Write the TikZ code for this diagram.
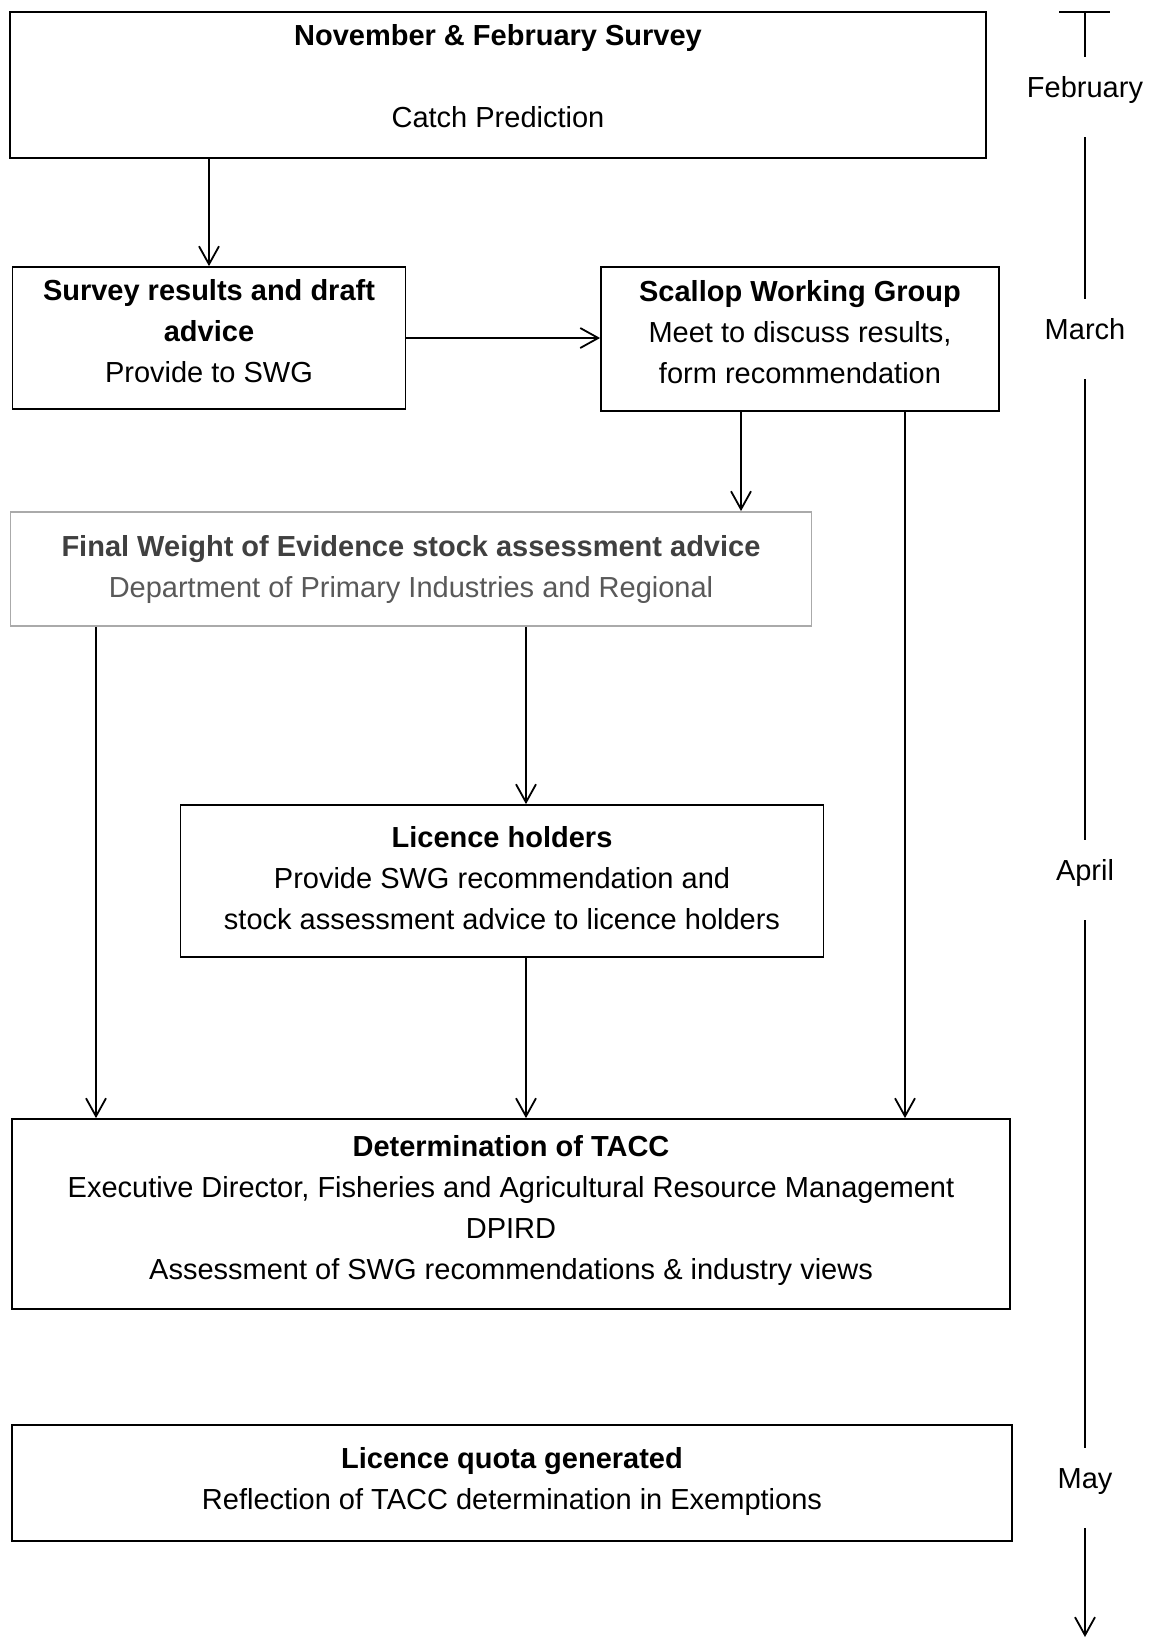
\documentclass[tikz,border=0pt]{standalone}
\usepackage{fontspec}
\setmainfont{Liberation Sans}
\usepackage{tikz}
\definecolor{ll}{RGB}{170, 170, 170}
\definecolor{dd}{RGB}{64, 64, 64}
\definecolor{mm}{RGB}{89, 89, 89}
\usetikzlibrary{arrows.meta}
\def\unit{0.5pt}
\tikzset{box/.style={draw,rectangle,align=center,line width=0.9pt,inner sep=0pt},
	month/.style={inner xsep=0pt,inner ysep=9.5pt,text height=10.5pt,text depth=10.5pt}}
\newcommand{\flowbox}[7][]{\node[box,minimum width=#5*\unit,minimum height=#6*\unit,#1] (#2) at (#3,#4) {#7};}

\begin{document}
\begin{tikzpicture}[x=\unit,y=-\unit,font=\fontsize{14.5}{20.5}\selectfont,>={Straight Barb[length=9pt,width=10pt]}]
\useasboundingbox (0,0) rectangle (1152,1639);
\flowbox[text depth=9.5pt]{Survey}{498}{85}{976}{146}{\textbf{November \& February Survey}\\[20.5pt]Catch Prediction}
\flowbox[text depth=7pt]{Results}{209}{338}{393}{142}{\textbf{Survey results and draft}\\\textbf{advice}\\Provide to SWG}
\flowbox[text depth=7pt]{SWG}{800}{339}{398}{144}{\textbf{Scallop Working Group}\\Meet to discuss results,\\form recommendation}
\flowbox[draw=ll,text=mm]{Evidence}{411}{569}{801}{114}{\textcolor{dd}{\textbf{Final Weight of Evidence stock assessment advice}}\\Department of Primary Industries and Regional}
\flowbox[text depth=3pt]{Holders}{502}{881}{643}{152}{\textbf{Licence holders}\\Provide SWG recommendation and\\stock assessment advice to licence holders}
\flowbox[text depth=7pt]{TACC}{511}{1214}{998}{190}{\textbf{Determination of TACC}\\Executive Director, Fisheries and Agricultural Resource Management\\DPIRD\\Assessment of SWG recommendations \& industry views}
\flowbox[text depth=5pt]{Quota}{512}{1483}{1000}{116}{\textbf{Licence quota generated}\\Reflection of TACC determination in Exemptions}

% arrow columns
\coordinate (c1) at (96,0);
\coordinate (c2) at (526,0);
\coordinate (c3) at (741,0);
\coordinate (c4) at (905,0);

\draw[->,line width=0.9pt] (Survey.south -| Results.north) -- (Results.north);
\draw[->,line width=0.9pt] (Results.east) -- (Results.east -| SWG.west);
\draw[->,line width=0.9pt] (SWG.south -| c3) -- (Evidence.north -| c3);
\draw[->,line width=0.9pt] (SWG.south -| c4) -- (TACC.north -| c4);
\draw[->,line width=0.9pt] (Evidence.south -| c1) -- (TACC.north -| c1);
\draw[->,line width=0.9pt] (Evidence.south -| c2) -- (Holders.north -| c2);
\draw[->,line width=0.9pt] (Holders.south -| c2) -- (TACC.north -| c2);

% time line
\coordinate (tl) at (1059,12);
\coordinate (tr) at (1110,12);
\coordinate (top) at (1085,12);
\coordinate (tip) at (1085,1637);
\node[month] (Feb) at (1085,97) {February};
\node[month] (Mar) at (1085,339) {March};
\node[month] (Apr) at (1085,880) {April};
\node[month] (May) at (1085,1488) {May};
\draw[line width=0.9pt] (tl) -- (tr);
\draw[line width=0.9pt] (top) -- (Feb);
\draw[line width=0.9pt] (Feb) -- (Mar);
\draw[line width=0.9pt] (Mar) -- (Apr);
\draw[line width=0.9pt] (Apr) -- (May);
\draw[->,line width=0.9pt] (May) -- (tip);
\end{tikzpicture}
\end{document}
